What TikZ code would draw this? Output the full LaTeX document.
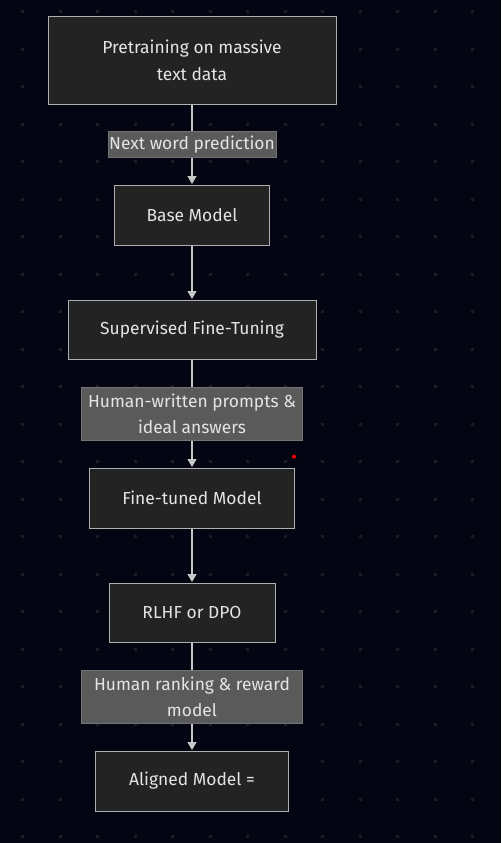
\documentclass[tikz,border=0pt]{standalone}
\usepackage{fontspec}
\setmainfont{Fira Sans}
\usetikzlibrary{arrows.meta}
\definecolor{bg}{RGB}{3,6,18}
\definecolor{gdot}{RGB}{26,29,40}
\definecolor{nfill}{RGB}{34,35,34}
\definecolor{nline}{RGB}{175,175,175}
\definecolor{ntext}{RGB}{228,228,228}
\definecolor{lfill}{RGB}{90,90,90}
\definecolor{aline}{RGB}{200,200,200}
\tikzset{
  box/.style={draw=nline, fill=nfill, line width=1pt, text=ntext, inner sep=0pt, align=center, font=\fontsize{17.4}{26.5}\selectfont},
  lab/.style={fill=lfill, draw=lfill!85!white, line width=0.6pt, text=ntext, inner sep=0pt, align=center, font=\fontsize{17.4}{26.5}\selectfont},
  flow/.style={draw=aline, line width=1.2pt, -{Triangle[width=9pt,length=8pt]}, shorten >=0.5pt}
}
\begin{document}
\begin{tikzpicture}[x=1pt,y=-1pt]
\useasboundingbox (0,0) rectangle (501,843);
\fill[bg] (0,0) rectangle (501,843);
\foreach \i in {0,...,13} {
  \foreach \j in {0,...,22} {
    \fill[gdot] ({22.5+37.5*\i-1.5},{11.7+37.5*\j-1.5}) rectangle ++(3,3);
  }
}
\node[box, minimum width=288pt, minimum height=87pt] (pre) at (192,60.5) {Pretraining on massive\\text data};
\node[box, minimum width=155pt, minimum height=60pt] (base) at (192,215) {Base Model};
\node[box, minimum width=248pt, minimum height=59pt] (sft) at (192,329.5) {Supervised Fine-Tuning};
\node[box, minimum width=205pt, minimum height=60pt] (ft) at (192,498) {Fine-tuned Model};
\node[box, minimum width=166pt, minimum height=59pt] (rl) at (192,612.5) {RLHF or DPO};
\node[box, minimum width=193pt, minimum height=60pt] (al) at (192,781) {Aligned Model =};
\draw[flow] (pre.south) -- (base.north);
\draw[flow] (base.south) -- (sft.north);
\draw[flow] (sft.south) -- (ft.north);
\draw[flow] (ft.south) -- (rl.north);
\draw[flow] (rl.south) -- (al.north);
\node[lab, minimum width=168pt, minimum height=26.5pt] (l1) at (192,144.5) {Next word prediction};
\node[lab, minimum width=221pt, minimum height=53.5pt] (l2) at (192,414) {Human-written prompts \&\\ideal answers};
\node[lab, minimum width=221pt, minimum height=53pt] (l3) at (192,697) {Human ranking \& reward\\model};
\fill[red] (294,456.7) circle (2pt);
\end{tikzpicture}
\end{document}
